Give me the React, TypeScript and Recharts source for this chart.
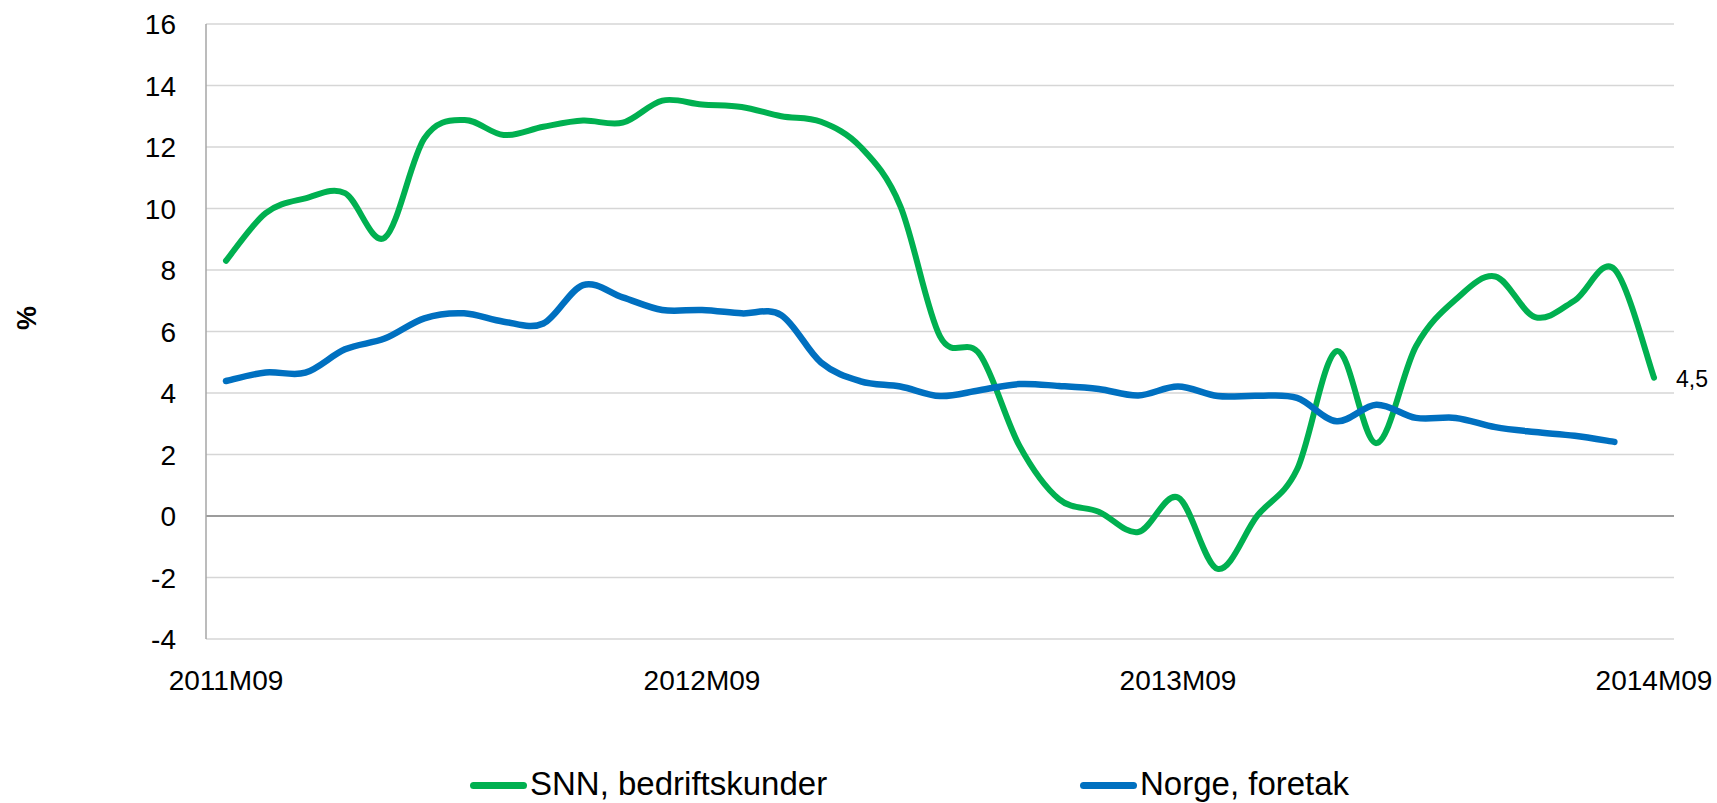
import React from 'react';
import { LineChart, Line, XAxis, YAxis, CartesianGrid, ReferenceLine, Legend } from 'recharts';

const categories = [
  '2011M09', '2011M10', '2011M11', '2011M12',
  '2012M01', '2012M02', '2012M03', '2012M04', '2012M05', '2012M06', '2012M07', '2012M08', '2012M09', '2012M10', '2012M11', '2012M12',
  '2013M01', '2013M02', '2013M03', '2013M04', '2013M05', '2013M06', '2013M07', '2013M08', '2013M09', '2013M10', '2013M11', '2013M12',
  '2014M01', '2014M02', '2014M03', '2014M04', '2014M05', '2014M06', '2014M07', '2014M08', '2014M09',
];

const snnBedriftskunder = [
  8.3, 9.85, 10.33, 10.5, 9.05, 12.28, 12.88, 12.39, 12.66, 12.86, 12.79, 13.51, 13.38,
  13.3, 13.0, 12.82, 12.0, 10.08, 5.84, 5.26, 2.29, 0.55, 0.14, -0.52, 0.6, -1.72,
  0.01, 1.51, 5.36, 2.37, 5.52, 7.04, 7.79, 6.47, 7.01, 8.03, 4.5,
];

const norgeForetak = [
  4.39, 4.67, 4.66, 5.42, 5.77, 6.43, 6.59, 6.32, 6.26, 7.51, 7.11, 6.7, 6.7,
  6.59, 6.53, 4.99, 4.38, 4.21, 3.9, 4.09, 4.29, 4.23, 4.13, 3.92, 4.21, 3.9,
  3.91, 3.84, 3.08, 3.62, 3.19, 3.19, 2.89, 2.73, 2.61, 2.41, null,
];

const xTickLabels = ['2011M09', '2012M09', '2013M09', '2014M09'];
const yTicks = [-4, -2, 0, 2, 4, 6, 8, 10, 12, 14, 16];
const seriesNames = ['SNN, bedriftskunder', 'Norge, foretak'];
const lastLabel = '4,5';
const yAxisTitle = '%';

const GREEN = '#00B050';
const BLUE = '#0070C0';
const FONT = '"Liberation Sans", Arial, sans-serif';

const data = categories.map((month, i) => ({
  month,
  snn: snnBedriftskunder[i],
  norge: norgeForetak[i],
}));

// Catmull-Rom style smoothing (similar to Excel's "smoothed line")
function excelSmooth(context: any) {
  let pts: [number, number][] = [];
  return {
    areaStart() {},
    areaEnd() {},
    lineStart() {
      pts = [];
    },
    lineEnd() {
      const n = pts.length;
      if (n === 0) return;
      context.moveTo(pts[0][0], pts[0][1]);
      if (n === 1) return;
      for (let i = 0; i < n - 1; i++) {
        const p0 = pts[i - 1] || pts[i];
        const p1 = pts[i];
        const p2 = pts[i + 1];
        const p3 = pts[i + 2] || pts[i + 1];
        const c1x = p1[0] + (p2[0] - p0[0]) / 6;
        const c1y = p1[1] + (p2[1] - p0[1]) / 6;
        const c2x = p2[0] - (p3[0] - p1[0]) / 6;
        const c2y = p2[1] - (p3[1] - p1[1]) / 6;
        context.bezierCurveTo(c1x, c1y, c2x, c2y, p2[0], p2[1]);
      }
    },
    point(x: number, y: number) {
      pts.push([+x, +y]);
    },
  };
}

const YTick = (props: any) => {
  const { x, y, payload } = props;
  return (
    <text x={x} y={y} dy="0.36em" textAnchor="end" fontFamily={FONT} fontSize={28} fill="#000">
      {String(payload.value)}
    </text>
  );
};

const XTick = (props: any) => {
  const { x, y, payload } = props;
  return (
    <text x={x} y={y} dy={51} textAnchor="middle" fontFamily={FONT} fontSize={28} fill="#000">
      {payload.value}
    </text>
  );
};

const LastLabel = (props: any) => {
  const { x, y, index } = props;
  if (index !== snnBedriftskunder.length - 1) return null;
  return (
    <text x={x + 22} y={y + 9} fontFamily={FONT} fontSize={23} fill="#000">
      {lastLabel}
    </text>
  );
};

const YTitle = () => (
  <text
    x={26}
    y={318}
    transform="rotate(-90 26 318)"
    textAnchor="middle"
    dy="0.36em"
    fontFamily={FONT}
    fontSize={27}
    fontWeight="bold"
    fill="#000"
  >
    {yAxisTitle}
  </text>
);

const renderLegend = () => {
  const items = [
    { name: seriesNames[0], color: GREEN, left: 470 },
    { name: seriesNames[1], color: BLUE, left: 1080 },
  ];
  return (
    <div style={{ position: 'relative', height: 50, width: 1717 }}>
      {items.map((it) => (
        <React.Fragment key={it.name}>
          <div
            style={{
              position: 'absolute',
              left: it.left,
              top: 28.5,
              width: 57,
              height: 7,
              borderRadius: 4,
              background: it.color,
            }}
          />
          <div
            style={{
              position: 'absolute',
              left: it.left + 60,
              top: 14,
              fontFamily: FONT,
              fontSize: 33,
              lineHeight: '33px',
              color: '#000',
              whiteSpace: 'nowrap',
            }}
          >
            {it.name}
          </div>
        </React.Fragment>
      ))}
    </div>
  );
};

export default function App() {
  return (
    <div style={{ position: 'absolute', left: 0, top: 0, width: 1717, height: 803, background: '#fff' }}>
      <LineChart
        width={1717}
        height={803}
        data={data}
        margin={{ top: 24, right: 43, left: 0, bottom: 0 }}
      >
        <CartesianGrid horizontal vertical={false} stroke="#d6d6d6" strokeWidth={1.5} />
        <XAxis
          dataKey="month"
          ticks={xTickLabels}
          interval={0}
          tick={<XTick />}
          tickLine={false}
          axisLine={false}
          tickSize={0}
          tickMargin={0}
          height={114}
          padding={{ left: 20, right: 20 }}
        />
        <YAxis
          domain={[-4, 16]}
          ticks={yTicks}
          interval={0}
          width={206}
          tick={<YTick />}
          tickLine={false}
          tickSize={0}
          tickMargin={30}
          axisLine={{ stroke: '#a6a6a6', strokeWidth: 1.5 }}
          label={<YTitle />}
        />
        <ReferenceLine y={0} stroke="#868686" strokeWidth={1.5} />
        <Legend verticalAlign="bottom" align="left" width={1717} wrapperStyle={{ left: 0, bottom: 0 }} content={renderLegend} />
        <Line
          type={excelSmooth as any}
          dataKey="snn"
          name={seriesNames[0]}
          stroke={GREEN}
          strokeWidth={6}
          strokeLinecap="round"
          dot={false}
          activeDot={false}
          isAnimationActive={false}
          label={<LastLabel />}
        />
        <Line
          type={excelSmooth as any}
          dataKey="norge"
          name={seriesNames[1]}
          stroke={BLUE}
          strokeWidth={6.5}
          strokeLinecap="round"
          dot={false}
          activeDot={false}
          isAnimationActive={false}
        />
      </LineChart>
    </div>
  );
}
